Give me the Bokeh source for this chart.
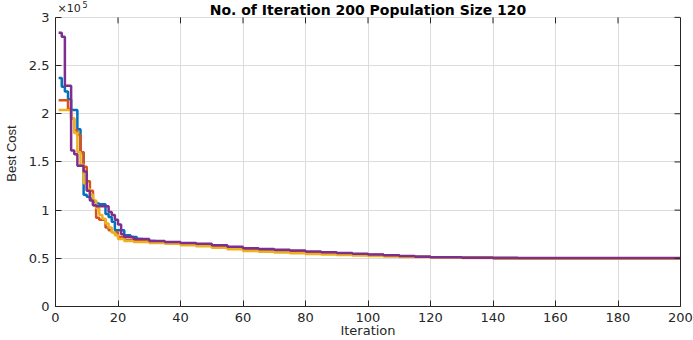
from bokeh.plotting import figure
from bokeh.models import LinearAxis, Label, FixedTicker, Range1d
from bokeh.embed import file_html
from bokeh.resources import INLINE

# Best cost (in units of 10^5) at the iterations where it changes
iter_blue = [1, 2, 3, 4, 5, 7, 8, 9, 10, 11, 12, 13, 14, 16, 17, 18, 19, 22, 24, 26, 28, 32,
             35, 40, 45, 50, 55, 60, 65, 70, 75, 80, 85, 90, 95, 100, 105, 110, 115, 120, 130, 140, 148, 200]
cost_blue = [2.37, 2.28, 2.23, 2.15, 2.04, 1.84, 1.60, 1.16, 1.14, 1.12, 1.09, 1.07, 1.06, 0.96, 0.93, 0.88, 0.79, 0.74, 0.72, 0.70, 0.68, 0.67,
             0.665, 0.655, 0.645, 0.63, 0.61, 0.595, 0.585, 0.575, 0.565, 0.557, 0.55, 0.545, 0.537, 0.532, 0.527, 0.52, 0.515, 0.508, 0.506, 0.503, 0.501, 0.501]

iter_orange = [1, 4, 5, 6, 7, 8, 9, 10, 11, 12, 13, 14, 16, 17, 18, 20, 22, 26, 30,
               35, 40, 45, 50, 55, 60, 65, 70, 75, 80, 85, 90, 95, 100, 105, 110, 115, 120, 130, 140, 148, 200]
cost_orange = [2.14, 2.05, 1.95, 1.83, 1.78, 1.60, 1.45, 1.30, 1.20, 1.05, 0.92, 0.90, 0.82, 0.79, 0.77, 0.72, 0.69, 0.68, 0.67,
               0.66, 0.65, 0.64, 0.625, 0.613, 0.60, 0.592, 0.583, 0.573, 0.563, 0.557, 0.55, 0.543, 0.537, 0.53, 0.522, 0.515, 0.508, 0.506, 0.503, 0.501, 0.501]

iter_yellow = [1, 5, 6, 7, 8, 9, 10, 11, 12, 13, 14, 15, 16, 17, 18, 19, 20, 22, 25, 30,
               35, 40, 45, 50, 55, 60, 65, 70, 75, 80, 85, 90, 95, 100, 105, 110, 120, 130, 140, 200]
cost_yellow = [2.04, 1.95, 1.80, 1.60, 1.47, 1.28, 1.22, 1.16, 1.10, 1.02, 0.95, 0.91, 0.86, 0.82, 0.77, 0.74, 0.70, 0.68, 0.67, 0.66,
               0.65, 0.635, 0.625, 0.61, 0.595, 0.575, 0.567, 0.56, 0.553, 0.545, 0.54, 0.535, 0.53, 0.523, 0.518, 0.513, 0.507, 0.504, 0.499, 0.499]

iter_purple = [1, 2, 3, 5, 6, 7, 9, 10, 11, 12, 13, 17, 18, 19, 20, 21, 22, 25, 30,
               35, 40, 45, 50, 55, 60, 65, 70, 75, 80, 85, 90, 95, 100, 105, 110, 115, 120, 130, 140, 148, 200]
cost_purple = [2.84, 2.80, 2.29, 1.62, 1.58, 1.46, 1.40, 1.20, 1.10, 1.05, 1.04, 0.98, 0.95, 0.90, 0.85, 0.75, 0.72, 0.70, 0.68,
               0.67, 0.66, 0.65, 0.635, 0.62, 0.605, 0.597, 0.59, 0.58, 0.57, 0.562, 0.555, 0.547, 0.54, 0.532, 0.525, 0.517, 0.51, 0.507, 0.504, 0.502, 0.502]

series = [
    (iter_blue, cost_blue, "#0072BD"),
    (iter_orange, cost_orange, "#D95319"),
    (iter_yellow, cost_yellow, "#EDB120"),
    (iter_purple, cost_purple, "#7E2F8E"),
]

x_ticks = [0, 20, 40, 60, 80, 100, 120, 140, 160, 180, 200]
y_ticks = [0, 0.5, 1, 1.5, 2, 2.5, 3]
y_tick_labels = ["0", "0.5", "1", "1.5", "2", "2.5", "3"]

title_text = "No. of Iteration 200 Population Size 120"
font = "DejaVu Sans"
axis_color = "#262626"

X0, X1 = 0, 200
Y0, Y1 = 0, 3
# the frame reaches the top of the page so that the title can sit above y = 3
Y_TOP = Y1 * 308.0 / 291.0

p = figure(width=693, height=340, output_backend="svg", toolbar_location=None,
           x_range=Range1d(X0, X1), y_range=Range1d(Y0, Y_TOP),
           min_border_left=54, min_border_right=13, min_border_top=0, min_border_bottom=32,
           x_axis_label="Iteration", y_axis_label="Best Cost")
p.outline_line_color = None
p.background_fill_color = "white"
p.border_fill_color = "white"

for ax, ticks in ((p.xaxis[0], x_ticks), (p.yaxis[0], y_ticks)):
    ax.ticker = FixedTicker(ticks=ticks)
    ax.major_tick_in = 6
    ax.major_tick_out = 0
    ax.minor_tick_line_color = None
    ax.axis_line_color = axis_color
    ax.major_tick_line_color = axis_color
    ax.major_label_text_color = axis_color
    ax.major_label_text_font = font
    ax.major_label_text_font_size = "13px"
    ax.axis_label_text_font_style = "normal"
    ax.axis_label_text_color = axis_color

p.yaxis[0].bounds = (Y0, Y1)
p.yaxis[0].major_label_overrides = {t: s for t, s in zip(y_ticks, y_tick_labels)}
p.yaxis[0].major_label_standoff = 6
p.yaxis[0].axis_label_standoff = 7
p.yaxis[0].axis_label_text_font = "Liberation Sans"
p.yaxis[0].axis_label_text_font_size = "13px"
p.xaxis[0].major_label_standoff = 6
p.xaxis[0].axis_label_standoff = -2
p.xaxis[0].axis_label_text_font = font
p.xaxis[0].axis_label_text_font_size = "13px"

right_axis = LinearAxis(ticker=FixedTicker(ticks=[]), bounds=(Y0, Y1),
                        axis_line_color=axis_color, major_tick_line_color=None,
                        minor_tick_line_color=None)
p.add_layout(right_axis, "right")

p.xgrid.ticker = FixedTicker(ticks=x_ticks)
p.ygrid.ticker = FixedTicker(ticks=y_ticks)
p.xgrid.cross_bounds = (Y0, Y1)
p.grid.grid_line_color = "#dcdcdc"
p.grid.grid_line_width = 1

for xs, ys, c in series:
    p.step(xs, ys, mode="after", line_width=2.5, line_color=c)

# inward tick marks on the top and right edges of the box
tick_y = 6 * Y1 / 291.0
tick_x = 6 * X1 / 626.0
p.segment(x0=x_ticks, y0=[Y1] * len(x_ticks), x1=x_ticks, y1=[Y1 - tick_y] * len(x_ticks),
          line_color=axis_color, line_width=1)
p.segment(x0=[X1] * len(y_ticks), y0=y_ticks, x1=[X1 - tick_x] * len(y_ticks), y1=y_ticks,
          line_color=axis_color, line_width=1)

p.add_layout(Label(x=(X0 + X1) / 2, y=Y1, y_offset=7, text=title_text, text_align="center",
                   text_baseline="middle", text_font=font, text_font_size="14px",
                   text_font_style="bold", text_color="black"))
p.add_layout(Label(x=X0, y=Y1, x_offset=2, y_offset=9, text="\u00d710", text_align="left",
                   text_baseline="middle", text_font=font, text_font_size="11px",
                   text_color=axis_color))
p.add_layout(Label(x=X0, y=Y1, x_offset=27, y_offset=13, text="5", text_align="left",
                   text_baseline="middle", text_font=font, text_font_size="8px",
                   text_color=axis_color))

open("out.html", "w").write(file_html(p, INLINE))
